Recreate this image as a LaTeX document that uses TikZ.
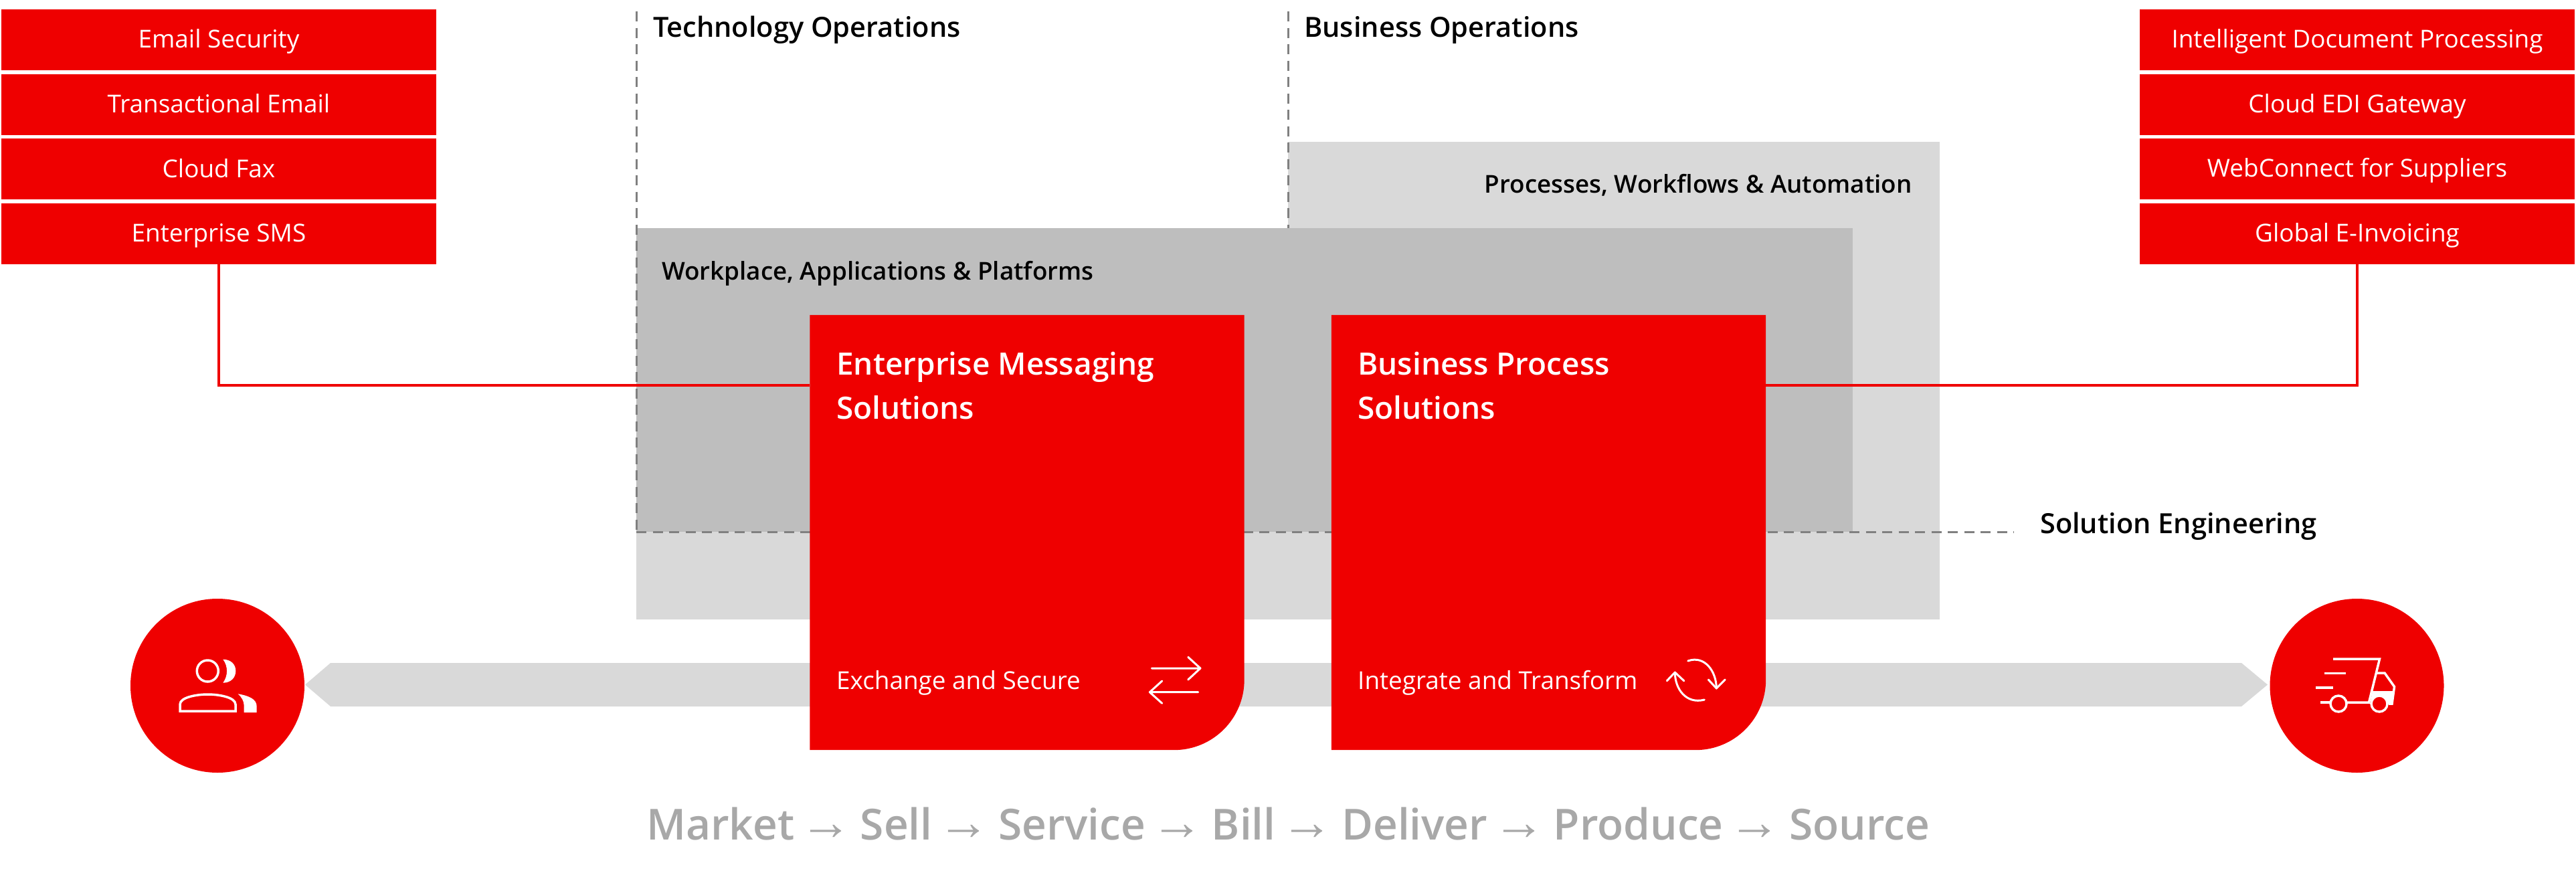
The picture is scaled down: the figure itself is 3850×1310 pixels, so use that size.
\documentclass[tikz,border=0pt]{standalone}
\usepackage{fontspec}
\setmainfont{Open Sans}
\newfontfamily\semib{Open Sans Semibold}
\newfontfamily\arrowfont{Liberation Sans}
\newcommand{\flowarrow}{\hspace{8pt}{\arrowfont\fontsize{78}{70}\selectfont →}\hspace{12.5pt}}
\definecolor{brandred}{HTML}{EF0000}
\definecolor{lightgr}{HTML}{D9D9D9}
\definecolor{midgr}{HTML}{BEBEBE}
\definecolor{dashgr}{HTML}{808080}
\definecolor{flowgr}{HTML}{A8A8A8}
\tikzset{
  listbox/.style={rectangle,fill=brandred,draw=none,inner sep=0,minimum width=650pt,minimum height=91pt},
  listtext/.style={text=white,inner sep=0,anchor=base,font=\fontsize{36.9}{44}\selectfont},
  headlabel/.style={text=black,inner sep=0,font=\semib\fontsize{36.8}{44}\selectfont},
  biglabel/.style={text=black,inner sep=0,anchor=base west,font=\semib\fontsize{41.5}{44}\selectfont},
  cardbox/.style={rectangle,draw=none,inner sep=0,minimum width=649pt,minimum height=650pt},
  cardfill/.style={fill=brandred},
  cardtitle/.style={text=white,inner sep=0,anchor=north west,align=left,font=\semib\fontsize{46}{66}\selectfont},
  cardsub/.style={text=white,inner sep=0,anchor=base west,font=\fontsize{36.9}{44}\selectfont},
  guide/.style={draw=dashgr,line width=3pt,dash pattern=on 15pt off 9.5pt},
  link/.style={draw=brandred,line width=3.5pt},
  endcircle/.style={circle,fill=brandred,draw=none,inner sep=0,minimum size=260pt},
  iconline/.style={draw=white,line width=3.5pt,fill=none},
  iconarrow/.style={draw=white,line width=3pt,fill=none,line cap=round,line join=round},
  iconsolid/.style={fill=white,draw=none},
  flow/.style={text=flowgr,inner sep=0,anchor=base west,font=\semib\fontsize{64}{70}\selectfont}
}
\begin{document}
\begin{tikzpicture}[x=1pt,y=-1pt]
\useasboundingbox (0,0) rectangle (3850,1310);
% grey panels
\fill[lightgr] (951,795) rectangle (1925,926);
\fill[lightgr] (1925,212) rectangle (2899,926);
\fill[midgr] (951,341) rectangle (2769,795);
\fill[lightgr] (456,1023.5) -- (494,991) -- (3350,991) -- (3389,1023.5) -- (3350,1056) -- (494,1056) -- cycle;
% guides
\coordinate (g1a) at (951,17);
\coordinate (g1b) at (951,795);
\coordinate (g2a) at (1925,17);
\coordinate (g2b) at (1925,341);
\coordinate (g3b) at (3010,795);
\draw[guide] (g1a) -- (g1b);
\draw[guide] (g2a) -- (g2b);
\draw[guide] (g1b) -- (g3b);
% list boxes
\node[listbox] (l1) at (327,59.5) {};
\node[listbox] (l2) at (327,156) {};
\node[listbox] (l3) at (327,252.5) {};
\node[listbox] (l4) at (327,349) {};
\node[listbox] (r1) at (3523,59.5) {};
\node[listbox] (r2) at (3523,156) {};
\node[listbox] (r3) at (3523,252.5) {};
\node[listbox] (r4) at (3523,349) {};
\node[listtext] (tl1) at (327,71) {Email Security};
\node[listtext] (tl2) at (327,168) {Transactional Email};
\node[listtext] (tl3) at (327,265) {Cloud Fax};
\node[listtext] (tl4) at (327,361) {Enterprise SMS};
\node[listtext] (tr1) at (3523,71) {Intelligent Document Processing};
\node[listtext] (tr2) at (3523,168) {Cloud EDI Gateway};
\node[listtext] (tr3) at (3523,264) {WebConnect for Suppliers};
\node[listtext] (tr4) at (3523,361) {Global E-Invoicing};
% cards
\node[cardbox] (ems) at (1535,796) {};
\node[cardbox] (bps) at (2314.5,796) {};
\coordinate (port) at (0,576);
\draw[link] (l4.south) |- (ems.west |- port);
\draw[link] (r4.south) |- (bps.east |- port);
\fill[cardfill] (ems.north west) -- (ems.north east) [rounded corners=105pt] -- (ems.south east) [sharp corners] -- (ems.south west) -- cycle;
\fill[cardfill] (bps.north west) -- (bps.north east) [rounded corners=105pt] -- (bps.south east) [sharp corners] -- (bps.south west) -- cycle;
% labels
\node[biglabel] (h1) at (976,55) {Technology Operations};
\node[biglabel] (h2) at (1949,55) {Business Operations};
\node[headlabel,anchor=base east] (h3) at (2858,288) {Processes, Workflows \& Automation};
\node[headlabel,anchor=base west] (h4) at (989,418) {Workplace, Applications \& Platforms};
\node[biglabel] (h5) at (3049,797) {Solution Engineering};
\node[cardtitle] (t1) at (1250,526) {Enterprise Messaging\\Solutions};
\node[cardtitle] (t2) at (2029,526) {Business Process\\Solutions};
\node[cardsub] (s1) at (1250,1030) {Exchange and Secure};
\node[cardsub] (s2) at (2029,1030) {Integrate and Transform};
% flow line
\node[flow] (f) at (966,1255) {Market\flowarrow Sell\flowarrow Service\flowarrow Bill\flowarrow Deliver\flowarrow Produce\flowarrow Source};
% exchange icon
\draw[iconarrow] (1721.3,999) -- (1794,999) (1775.7,982.3) -- (1794,999) -- (1775.7,1016);
\draw[iconarrow] (1790.7,1034.7) -- (1718.3,1034.7) (1736.7,1018) -- (1718.3,1034.7) -- (1736.7,1051.3);
% cycle icon
\draw[iconarrow] (2522.7,988) .. controls (2548,979) and (2565.3,1004) .. (2565.3,1029);
\draw[iconarrow] (2553.3,1016) -- (2565.3,1029) -- (2578.3,1016);
\draw[iconarrow] (2547.3,1046) .. controls (2520,1053) and (2503.3,1030) .. (2503.3,1005);
\draw[iconarrow] (2491.3,1017.7) -- (2503.3,1005) -- (2516.7,1017.7);
% end circles
\node[endcircle] (cust) at (325,1025) {};
\node[endcircle] (truck) at (3522.5,1025) {};
% person icon
\draw[iconline] (310.3,1003) circle (16);
\fill[iconsolid] (333.3,985.7) .. controls (345,985.7) and (352.3,993) .. (352.3,1003) .. controls (352.3,1013) and (345,1020.7) .. (333.3,1020.7) .. controls (341,1010) and (341,996) .. (333.3,985.7) -- cycle;
\draw[iconline,line join=miter] (269,1063) -- (269,1053) .. controls (269,1042) and (295,1038) .. (310.5,1038) .. controls (326,1038) and (352,1042) .. (352,1053) -- (352,1063) -- cycle;
\fill[iconsolid] (355.7,1037.3) .. controls (372,1040) and (383.7,1045) .. (383.7,1056) -- (383.7,1065) -- (364.7,1065) -- (364.7,1055) .. controls (364.7,1048) and (361,1042) .. (355.7,1037.3) -- cycle;
% truck icon
\draw[iconline] (3487,985) -- (3556.5,985) -- (3540.5,1050) -- (3508,1050);
\draw[iconline] (3474,1006.7) -- (3506,1006.7);
\draw[iconline] (3461,1028) -- (3487,1028);
\draw[iconline] (3468,1050) -- (3482,1050);
\draw[iconline] (3552,1006) -- (3564,1006) -- (3578.5,1026.5) -- (3575,1052) -- (3570,1052);
\fill[iconsolid] (3546,1033) -- (3578,1033) -- (3575,1052) -- (3542,1052) -- cycle;
\draw[iconline,fill=brandred] (3495,1052) circle (12);
\draw[iconline,fill=brandred] (3556,1052) circle (12);
\end{tikzpicture}
\end{document}
